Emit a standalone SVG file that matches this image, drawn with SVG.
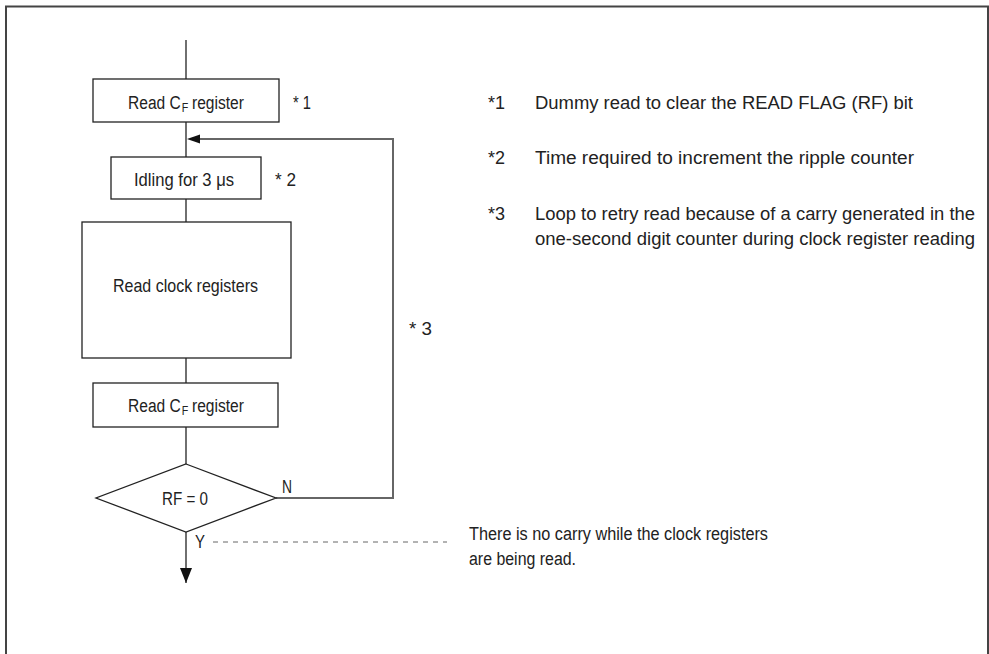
<svg xmlns="http://www.w3.org/2000/svg" width="989" height="654" viewBox="0 0 989 654">
<style>
text{font-family:"Liberation Sans Narrow","Liberation Sans",Arial,sans-serif;fill:#222}
.l{font-size:19px}
.s{font-size:13px}
.r{font-size:17.5px}
.b{font-size:18px}
.box{fill:#fff;stroke:#222;stroke-width:1.3}
.ln{fill:none;stroke:#222;stroke-width:1.3}
.lp{fill:none;stroke:#666;stroke-width:2}
</style>
<defs>
<marker id="ah" viewBox="0 0 12 15" refX="6" refY="15" markerWidth="12" markerHeight="15" markerUnits="userSpaceOnUse" orient="0">
<path d="M0,0 L12,0 L6,15 Z" fill="#111"/>
</marker>
</defs>
<path d="M6,654 V6.5 H988 V654" fill="none" stroke="#444" stroke-width="2"/>
<g id="connectors">
<line class="ln" x1="186" y1="40" x2="186" y2="79"/>
<line class="ln" x1="186" y1="122" x2="186" y2="157"/>
<line class="ln" x1="186" y1="199" x2="186" y2="222"/>
<line class="ln" x1="186" y1="358" x2="186" y2="383"/>
<line class="ln" x1="186" y1="427" x2="186" y2="464"/>
<path class="lp" d="M276,498 H393 V139 H199"/>
<path d="M187,139 L200,134.5 L200,143.5 Z" fill="#111"/>
<line class="ln" x1="186" y1="532" x2="186" y2="583" marker-end="url(#ah)"/>
<line x1="213" y1="542" x2="447" y2="542" stroke="#666" stroke-width="1" stroke-dasharray="5,5"/>
</g>
<g id="n1">
<rect class="box" x="93" y="79" width="186" height="43"/>
<g transform="translate(128,109) scale(0.82,1)">
<text class="l" x="0" y="0">Read C</text>
<text class="s" x="65.5" y="3">F</text>
<text class="l" x="78" y="0">register</text>
</g>
<text class="l" x="293" y="109" textLength="18" lengthAdjust="spacingAndGlyphs">* 1</text>
</g>
<g id="n2">
<rect class="box" x="111" y="157" width="150" height="42"/>
<text class="l" x="134" y="186" textLength="100" lengthAdjust="spacingAndGlyphs">Idling for 3 μs</text>
<text class="l" x="275" y="186" textLength="21" lengthAdjust="spacingAndGlyphs">* 2</text>
</g>
<g id="n3">
<rect class="box" x="82" y="222" width="209" height="136"/>
<text class="l" x="113" y="292" textLength="145" lengthAdjust="spacingAndGlyphs">Read clock registers</text>
</g>
<g id="n4">
<rect class="box" x="93" y="383" width="185" height="44"/>
<g transform="translate(128,412) scale(0.82,1)">
<text class="l" x="0" y="0">Read C</text>
<text class="s" x="65.5" y="3">F</text>
<text class="l" x="78" y="0">register</text>
</g>
</g>
<g id="n5">
<path class="box" d="M186,464 L276,498 L186,532 L96,498 Z"/>
<text class="l" x="162" y="505" textLength="46" lengthAdjust="spacingAndGlyphs">RF = 0</text>
<text class="l" x="282" y="493" textLength="10" lengthAdjust="spacingAndGlyphs">N</text>
<text class="l" x="195" y="548" textLength="10" lengthAdjust="spacingAndGlyphs">Y</text>
</g>
<text class="l" x="409" y="335" textLength="23" lengthAdjust="spacingAndGlyphs">* 3</text>
<g id="notes">
<text class="r" x="488" y="109" textLength="17" lengthAdjust="spacingAndGlyphs">*1</text>
<text class="r" x="535" y="109" textLength="378" lengthAdjust="spacingAndGlyphs">Dummy read to clear the READ FLAG (RF) bit</text>
<text class="r" x="488" y="164" textLength="17" lengthAdjust="spacingAndGlyphs">*2</text>
<text class="r" x="535" y="164" textLength="379" lengthAdjust="spacingAndGlyphs">Time required to increment the ripple counter</text>
<text class="r" x="488" y="220" textLength="17" lengthAdjust="spacingAndGlyphs">*3</text>
<text class="r" x="535" y="220" textLength="440" lengthAdjust="spacingAndGlyphs">Loop to retry read because of a carry generated in the</text>
<text class="r" x="535" y="245" textLength="440" lengthAdjust="spacingAndGlyphs">one-second digit counter during clock register reading</text>
<text class="b" x="469" y="540" textLength="299" lengthAdjust="spacingAndGlyphs">There is no carry while the clock registers</text>
<text class="b" x="469" y="565" textLength="107" lengthAdjust="spacingAndGlyphs">are being read.</text>
</g>
</svg>
